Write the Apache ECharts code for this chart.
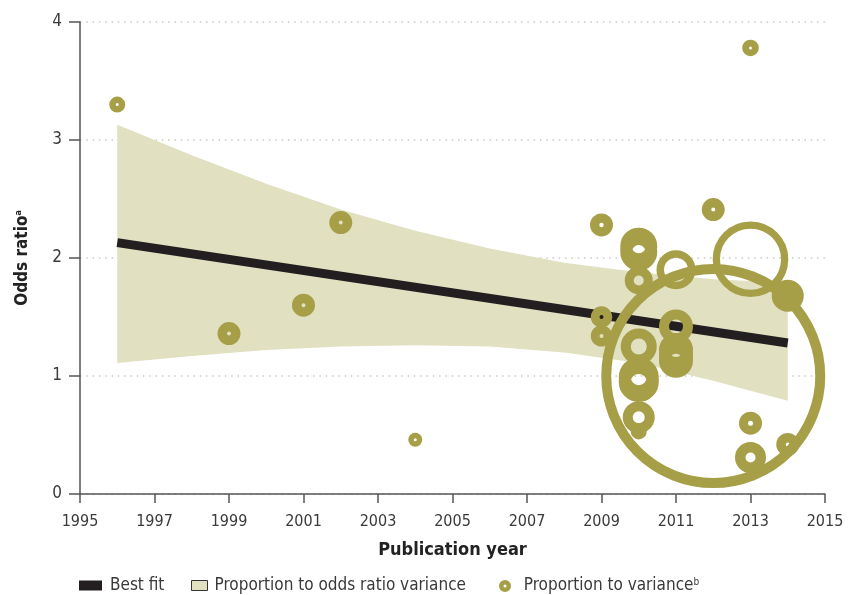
<!DOCTYPE html>
<html>
<head>
<meta charset="utf-8">
<script src="https://cdn.jsdelivr.net/npm/echarts@6/dist/echarts.min.js"></script>
<style>html,body{margin:0;padding:0;background:#fff}#c{width:849px;height:595px}</style>
</head>
<body>
<div id="c"></div>
<script>
// ---- data ----
var xTicks = [1995, 1997, 1999, 2001, 2003, 2005, 2007, 2009, 2011, 2013, 2015];
var yTicks = [0, 1, 2, 3, 4];
var fitYears = [1996, 2014];
var fitValues = [2.13, 1.28];
var bandYears = [1996, 1998, 2000, 2002, 2004, 2006, 2008, 2010, 2012, 2014];
var bandUpper = [3.13, 2.87, 2.63, 2.41, 2.23, 2.08, 1.96, 1.88, 1.82, 1.79];
var bandLower = [1.11, 1.17, 1.22, 1.25, 1.26, 1.25, 1.20, 1.11, 0.96, 0.79];
var studyYear = [1996, 1999, 2001, 2002, 2004, 2009, 2009, 2009, 2010, 2010, 2010, 2010, 2010, 2010, 2010, 2010, 2011, 2011, 2011, 2011, 2011, 2012, 2012, 2013, 2013, 2013, 2013, 2014, 2014];
var studyOR   = [3.30, 1.36, 1.60, 2.30, 0.46, 2.28, 1.50, 1.34, 2.10, 2.05, 1.81, 1.25, 0.99, 0.95, 0.65, 0.53, 1.90, 1.42, 1.22, 1.17, 1.13, 2.41, 1.00, 3.78, 1.99, 0.60, 0.31, 1.68, 0.42];
// weight of each study (outer ring radius) and the ring's inner opening
var studyWeight = [8, 11.5, 11.5, 11.5, 7, 11.5, 10.7, 10.7, 18.5, 18.5, 14, 18, 20, 20, 16, 8, 19.5, 17, 17, 17, 17, 11.5, 112, 8.3, 37.8, 11.5, 15.5, 16, 11.5];
var studyHole   = [1.5, 2, 2, 2, 1.5, 2.2, 2, 2, 7, 7, 5, 8, 8, 8, 6, 1.5, 12, 7, 7, 7, 7, 2, 102, 1.5, 30.5, 2.5, 5, 2, 2];

// ---- style ----
var OLIVE = '#a69f48';
var BEIGE = '#e1e0c1';
var FONT = "'DejaVu Sans Condensed', 'Liberation Sans Narrow', sans-serif";
var TXT = '#3a3a3a';
var AX = '#555555';

var chart = echarts.init(document.getElementById('c'), null, {renderer: 'canvas'});

var scatterData = studyYear.map(function (y, i) {
  return {
    value: [y, studyOR[i]],
    symbolSize: studyWeight[i] + studyHole[i],
    itemStyle: {borderWidth: studyWeight[i] - studyHole[i]}
  };
});

var bandData = bandYears.map(function (y, i) { return [y, bandUpper[i], bandLower[i]]; });

var option = {
  animation: false,
  backgroundColor: '#fff',
  grid: {left: 80, right: 24, top: 22, bottom: 101},
  xAxis: {
    type: 'value', min: 1995, max: 2015, interval: 2,
    name: 'Publication year', nameLocation: 'middle', nameGap: 47,
    nameTextStyle: {fontFamily: FONT, fontWeight: 'bold', fontSize: 18, color: '#222'},
    axisLine: {lineStyle: {color: AX, width: 1.5}},
    axisTick: {show: true, length: 9, lineStyle: {color: AX, width: 1.5}},
    axisLabel: {fontFamily: FONT, fontSize: 16, color: TXT, margin: 20,
      formatter: function (v) { return xTicks.indexOf(v) >= 0 ? String(v) : ''; }},
    splitLine: {show: false}
  },
  yAxis: {
    type: 'value', min: 0, max: 4, interval: 1,
    name: 'Odds ratio{sup|a}', nameLocation: 'middle', nameGap: 49,
    nameTextStyle: {fontFamily: FONT, fontWeight: 'bold', fontSize: 17, color: '#222',
      rich: {sup: {fontFamily: FONT, fontWeight: 'bold', fontSize: 9, color: '#222', verticalAlign: 'top', padding: [0, 0, 8, 0]}}},
    axisLine: {show: true, lineStyle: {color: AX, width: 1.5}},
    axisTick: {show: true, length: 11, lineStyle: {color: AX, width: 1.5}},
    axisLabel: {fontFamily: FONT, fontSize: 17, color: TXT, margin: 18,
      formatter: function (v) { return yTicks.indexOf(v) >= 0 ? String(v) : ''; }},
    splitLine: {show: true, lineStyle: {color: '#c8c8c8', width: 1.5, type: [1.5, 4.8]}}
  },
  legend: [
    {data: [{name: 'Best fit', icon: 'rect', itemStyle: {color: '#231f20'}}],
     left: 74, top: 572, itemWidth: 23, itemHeight: 10, selectedMode: false,
     textStyle: {fontFamily: FONT, fontSize: 17, color: TXT, padding: [0, 0, 0, 3]}},
    {data: [{name: 'Proportion to odds ratio variance', icon: 'rect',
             itemStyle: {color: BEIGE, borderColor: '#333', borderWidth: 1}}],
     left: 186, top: 572, itemWidth: 16, itemHeight: 10, selectedMode: false,
     textStyle: {fontFamily: FONT, fontSize: 17, color: TXT, padding: [0, 0, 0, 2]}},
    {data: [{name: 'Proportion to variance', icon: 'circle',
             itemStyle: {color: '#ffffff', borderColor: OLIVE, borderWidth: 4.5, opacity: 1}}],
     left: 494, top: 572, itemWidth: 7.5, itemHeight: 7.5, selectedMode: false,
     formatter: function (n) { return n + '{sup|b}'; },
     textStyle: {fontFamily: FONT, fontSize: 17, color: TXT, padding: [0, 0, 0, 10],
       rich: {sup: {fontFamily: FONT, fontSize: 10, color: TXT, verticalAlign: 'top', padding: [0, 0, 8, 0]}}}}
  ],
  series: [
    {
      name: 'Proportion to odds ratio variance',
      type: 'custom',
      silent: true,
      z: 1,
      itemStyle: {color: BEIGE},
      data: bandData,
      renderItem: function (params, api) {
        if (params.dataIndex !== 0) return null;
        var pts = [];
        for (var i = 0; i < bandData.length; i++) pts.push(api.coord([bandData[i][0], bandData[i][1]]));
        for (var j = bandData.length - 1; j >= 0; j--) pts.push(api.coord([bandData[j][0], bandData[j][2]]));
        return {type: 'polygon', shape: {points: pts}, style: {fill: BEIGE}};
      }
    },
    {
      name: 'Best fit',
      type: 'line',
      silent: true,
      z: 2,
      symbol: 'none',
      data: fitYears.map(function (y, i) { return [y, fitValues[i]]; }),
      lineStyle: {color: '#231f20', width: 9, cap: 'butt'},
      itemStyle: {color: '#231f20'}
    },
    {
      name: 'Proportion to variance',
      type: 'scatter',
      silent: true,
      z: 3,
      clip: false,
      itemStyle: {color: 'rgba(0,0,0,0)', borderColor: OLIVE, opacity: 1},
      data: scatterData
    }
  ]
};
chart.setOption(option);
</script>
</body>
</html>
